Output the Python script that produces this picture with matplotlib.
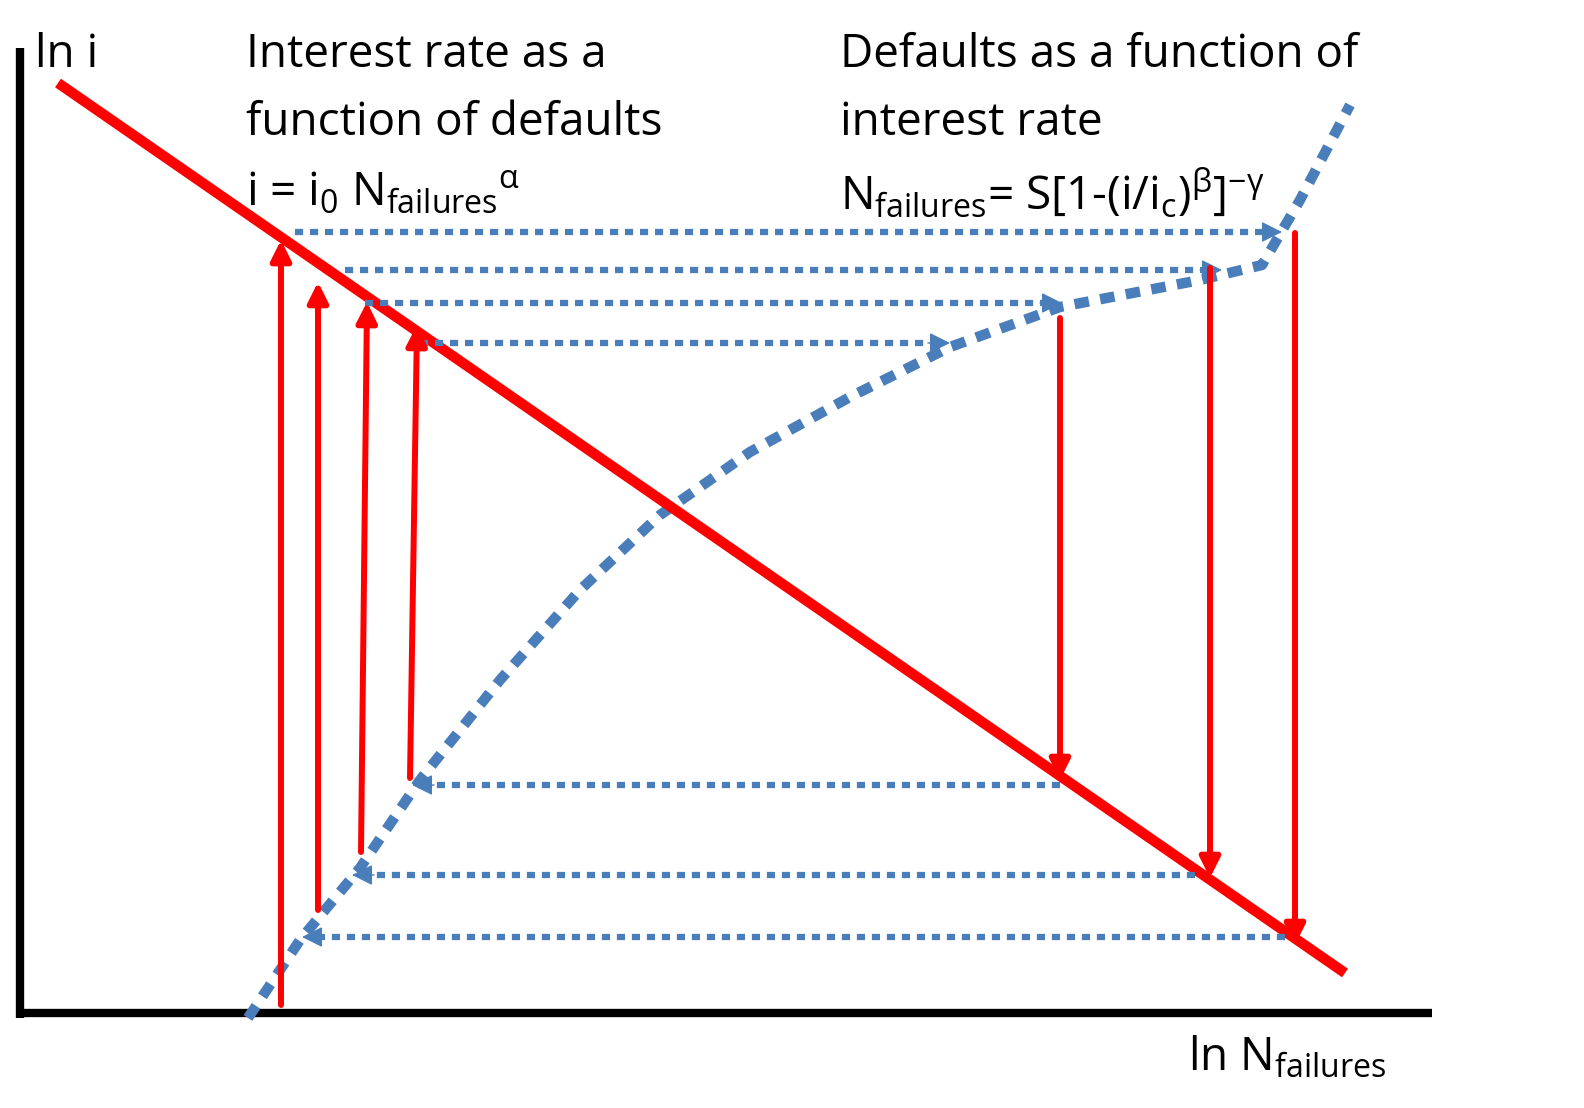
import matplotlib
matplotlib.use("Agg")
import matplotlib.pyplot as plt

plt.rcParams['font.family'] = ['Open Sans', 'DejaVu Sans']
plt.rcParams['mathtext.default'] = 'regular'

# Diagram geometry (image pixel coordinates)
axis_v = ([20, 20], [48, 1018])
axis_h = ([20, 1432], [1013, 1013])
red_line_x = [58, 1345]
red_line_y = [83, 973]
curve_x = [248, 300, 360, 420, 500, 580, 660, 750, 850, 950, 1060, 1200, 1262, 1300, 1350]
curve_y = [1018, 940, 868, 780, 680, 590, 515, 452, 397, 347, 307, 280, 265, 200, 105]
# horizontal blue arrows: (y, x_start, x_end)
blue_arrows_y = [232, 270, 303, 343, 785, 875, 937]
blue_arrows_x0 = [295, 345, 365, 420, 1060, 1195, 1285]
blue_arrows_x1 = [1282, 1222, 1062, 950, 412, 352, 302]
# red vertical arrows: (x_start, y_start, x_end, y_end)
red_x0 = [281, 318, 361, 410, 1060, 1210, 1295]
red_y0 = [1005, 910, 852, 778, 318, 268, 233]
red_x1 = [281, 318, 367, 417, 1060, 1210, 1295]
red_y1 = [240, 282, 302, 325, 780, 878, 945]

fig = plt.figure(figsize=(15.84, 11.08), dpi=100)
ax = fig.add_axes([0, 0, 1, 1])
ax.set_xlim(0, 1584)
ax.set_ylim(1108, 0)
ax.axis('off')

blue = '#4a7ebb'
red = '#ff0000'

ax.plot(*axis_v, color='black', lw=6, solid_capstyle='butt')
ax.plot(*axis_h, color='black', lw=6, solid_capstyle='butt')
ax.plot(curve_x, curve_y, color=blue, lw=7.5, dashes=(1.4, 1.1))
ax.plot(red_line_x, red_line_y, color=red, lw=7.5, solid_capstyle='butt')

for y, x0, x1 in zip(blue_arrows_y, blue_arrows_x0, blue_arrows_x1):
    d = 1 if x1 > x0 else -1
    ax.plot([x0, x1 - d * 20], [y, y], color=blue, lw=4.5, dashes=(1.3, 1.1))
    ax.annotate('', xy=(x1, y), xytext=(x1 - d * 22, y),
                arrowprops=dict(arrowstyle='-|>', color=blue, lw=1,
                                mutation_scale=32, shrinkA=0, shrinkB=0))

for x0, y0, x1, y1 in zip(red_x0, red_y0, red_x1, red_y1):
    ax.annotate('', xy=(x1, y1), xytext=(x0, y0),
                arrowprops=dict(arrowstyle='-|>', color=red, lw=4.3,
                                mutation_scale=30, shrinkA=0, shrinkB=0))

fs = 33
ax.text(35, 55, 'ln i', fontsize=fs, va='center')
ax.text(246, 55, 'Interest rate as a', fontsize=fs, va='center')
ax.text(246, 123, 'function of defaults', fontsize=fs, va='center')
ax.text(246, 193, r'i = i$_0$ N$_{failures}$$^{\alpha}$', fontsize=fs, va='center')
ax.text(840, 55, 'Defaults as a function of', fontsize=fs, va='center')
ax.text(840, 123, 'interest rate', fontsize=fs, va='center')
ax.text(840, 193, r'N$_{failures}$= S[1-(i/i$_c$)$^{\beta}$]$^{-\gamma}$', fontsize=fs, va='center')
ax.text(1188, 1058, r'ln N$_{failures}$', fontsize=fs, va='center')

fig.savefig('out.png', dpi=100)
